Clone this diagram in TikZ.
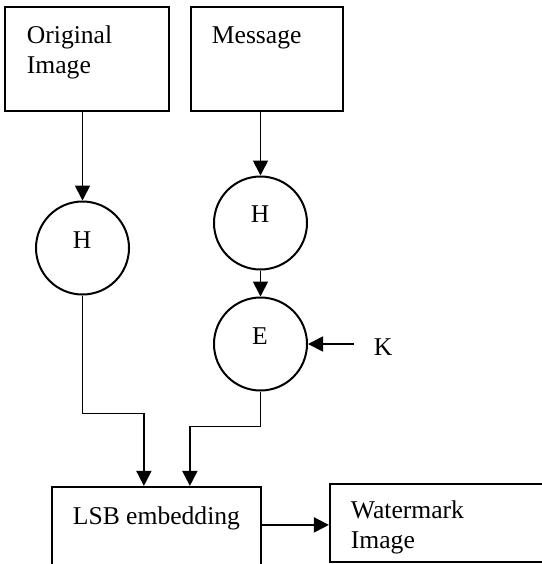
\documentclass[tikz,border=0pt]{standalone}
\usepackage{fontspec}
\setmainfont{Liberation Serif}
\usetikzlibrary{arrows.meta}
\usetikzlibrary{positioning}
\usetikzlibrary{calc}

\tikzset{
  box/.style={draw, rectangle, line width=1.1pt, inner sep=0pt},
  hashc/.style={draw, circle, line width=1pt, inner sep=0pt, minimum size=46.5pt},
  txt/.style={inner sep=0pt, align=left, font=\fontsize{12.8}{15}\selectfont},
}

\begin{document}
\begin{tikzpicture}[x=0.5pt, y=-0.5pt, line width=0.9pt, >={Triangle[length=7.5pt,width=7.5pt]}]
      \useasboundingbox (0,0) rectangle (542,564);
      \clip (0,0) rectangle (542,564);
      % boxes
      \node[box, minimum width=82pt, minimum height=52pt]    (orig) at (87,59)    {};
      \node[box, minimum width=76pt, minimum height=52pt]    (msg)  at (267,59)   {};
      \node[box, minimum width=104.5pt, minimum height=55pt] (lsb)  at (156.5,542) {};
      \node[box, minimum width=125pt, minimum height=39pt]   (wm)   at (455,523)  {};
      % circles
      \node[hashc] (h1) at (82.5,248) {};
      \node[hashc] (h2) at (260.5,223) {};
      \node[hashc] (e)  at (260.5,344) {};
      % texts (base = last line)
      \node[txt, anchor=base west] (orig-txt) at (26,73)   {Original\\Image};
      \node[txt, anchor=base west] (msg-txt)  at (211,43)  {Message};
      \node[txt, anchor=base]      (h1-txt)   at (82,248)  {H};
      \node[txt, anchor=base]      (h2-txt)   at (260,222) {H};
      \node[txt, anchor=base]      (e-txt)    at (260,344) {E};
      \node[txt, anchor=base west] (k)        at (373,355) {K};
      \node[txt, anchor=base west] (lsb-txt)  at (72,524)  {LSB embedding};
      \node[txt, anchor=base west] (wm-txt)   at (350,548) {Watermark\\Image};
      \coordinate (k-in) at (354,344);
      \coordinate (lsb-out) at ($(lsb.north east)+(0,39)$);
      % connectors
      \draw[->] (orig.south -| h1.north) -- (h1.north);
      \draw[->] (msg.south -| h2.north) -- (h2.north);
      \draw[->] (h2.south) -- (e.north);
      \draw[->] (k-in) -- (e.east);
      \draw[->] (h1.south) -- ++(0,118) -| ($(lsb.north west)+(93,0)$);
      \draw[->] (e.south) -- ++(0,35) -| ($(lsb.north west)+(139,0)$);
      \draw[->] (lsb-out) -- (lsb-out -| wm.west);
\end{tikzpicture}
\end{document}
